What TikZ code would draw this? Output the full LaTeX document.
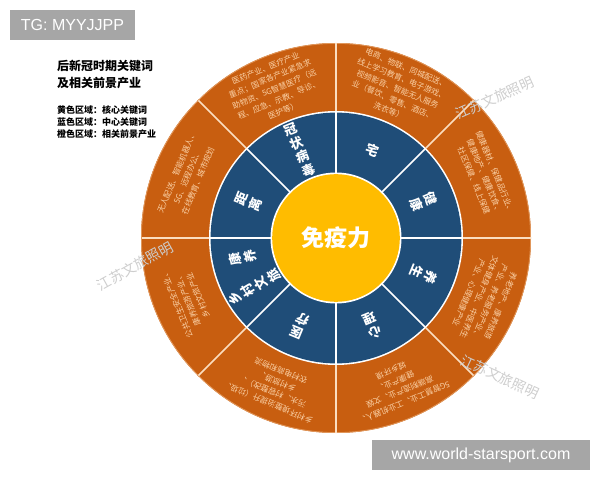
\documentclass[tikz,border=0pt]{standalone}
\usepackage{fontspec}
\setmainfont{Noto Sans CJK SC}
\newfontfamily\latinsf{Liberation Sans}
\usetikzlibrary{positioning, calc}
\definecolor{ringorange}{RGB}{200,94,16}
\definecolor{ringblue}{RGB}{31,77,120}
\definecolor{coreyellow}{RGB}{255,188,0}
\definecolor{peach}{RGB}{250,208,165}
\definecolor{boxgray}{RGB}{166,166,166}
\definecolor{wmgray}{RGB}{205,205,205}

\begin{document}
\begin{tikzpicture}[x=1pt, y=1pt,
  sepin/.style={draw=white, line width=1.6pt},
  sepout/.style={draw=peach!70!white, line width=1.6pt},
  key/.style={font=\bfseries\fontsize{13}{15}\selectfont, text=white, align=center, inner sep=0pt},
  ind/.style={font=\fontsize{8}{11.5}\selectfont, text=peach, align=center, inner sep=0pt, text width=100pt},
  wm/.style={font=\fontsize{14}{14}\selectfont, text=wmgray},
  tag/.style={fill=boxgray, text=white, font=\latinsf\fontsize{16}{16}\selectfont, inner sep=0pt, minimum height=30pt}]
\useasboundingbox (0,0) rectangle (600,480);
\coordinate (c) at (336,242);
% rings
\fill[ringorange] (c) circle (195pt);
\draw[peach!50!ringorange, line width=0.8pt] (c) circle (194.6pt);
\fill[white] (c) circle (127pt);
\fill[ringblue] (c) circle (125.4pt);
\fill[white] (c) circle (65.5pt);
\fill[coreyellow] (c) circle (63.8pt);
\foreach \a in {0,45,...,315} {
  \draw[sepin] ($(c)+(\a:64pt)$) -- ($(c)+(\a:126pt)$);
  \draw[sepout] ($(c)+(\a:127pt)$) -- ($(c)+(\a:194.5pt)$);
}
\node[font=\bfseries\fontsize{23}{23}\selectfont, text=white] (core) at (c) {免疫力};
% key words
\foreach \n/\a/\t in {cov/112.5/冠\\状\\病\\毒, stay/67.5/宅, hea/22.5/健\\康, care/-22.5/养\\生,
    mind/-67.5/心\\理, med/-112.5/医\\疗, dist/157.5/距\\离}
  \node[key, rotate=\a-90] (k\n) at ($(c)+(\a:95pt)$) {\t};
\node[key, rotate=102] (kwell) at ($(c)+(192:95pt)$) {康\\养};
\node[key, rotate=121] (krur) at ($(c)+(211:95pt)$) {乡\\村\\文\\旅};
% industries
\foreach \n/\a/\t in {
    cov/112.5/{医药产业、医疗产业\\重点；国家各产业紧急求\\助物资、5G智慧医疗（远\\程、应急、示教、导诊、\\医护等）},
    stay/67.5/{电商、物联、同城配送、\\线上学习教育、电子游戏、\\视频影音、智能无人服务\\业（餐饮、零售、酒店、\\洗衣等）},
    hea/22.5/{健康器材、保健品行业、\\健康地产、健康饮食、\\社区保健、线上保健},
    care/-22.5/{养老地产、康养旅游\\产业、养老服务产业、\\文体健身产业、中医养生\\产业、心理健康产业},
    mind/-67.5/{5G智慧工业、工业机器人、\\高端制造产业、文娱\\健康产业、\\城乡环境},
    med/-112.5/{乡村环境整治提升（垃圾、\\污水、村容整改）、\\乡村旅游、\\农村电商和物流},
    rur/-157.5/{公共卫生安全产业、\\康养旅游产业、\\乡村文旅产业},
    dist/157.5/{无人配送、智能机器人、\\5G、远程办公、\\在线教育、城市规划}}
  \node[ind, rotate=\a-90] (i\n) at ($(c)+(\a:161pt)$) {\t};
% heading and legend
\node[anchor=north west, align=left, inner sep=0pt, font=\bfseries\fontsize{12}{17}\selectfont] (title) at (57,420) {后新冠时期关键词\\及相关前景产业};
\node[below right=16pt and 0pt of title.south west, align=left, inner sep=0pt, font=\bfseries\fontsize{9}{12}\selectfont] (legend) {黄色区域：核心关键词\\蓝色区域：中心关键词\\橙色区域：相关前景产业};
% watermarks
\node[wm, rotate=24] (wm1) at (495,382) {江苏文旅照明};
\node[wm, rotate=29] (wm2) at (135,214) {江苏文旅照明};
\node[wm, rotate=-25] (wm3) at (500,103) {江苏文旅照明};
% tags
\node[tag, minimum width=125pt] (tg) at (72.5,455) {TG: MYYJJPP};
\node[tag, minimum width=218pt] (url) at (481,25) {www.world-starsport.com};
\end{tikzpicture}
\end{document}
